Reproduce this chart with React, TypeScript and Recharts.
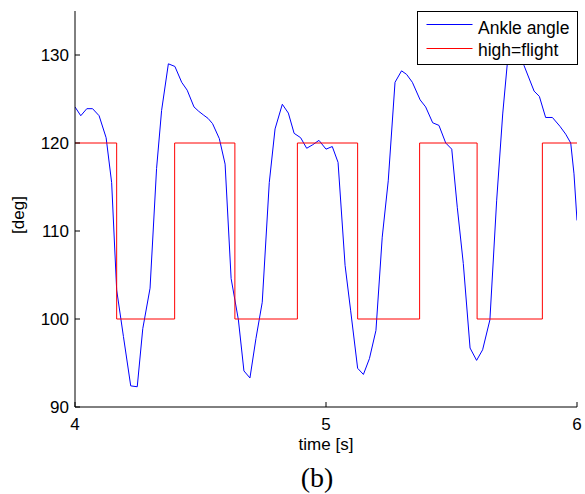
import { LineChart, Line, XAxis, YAxis } from "recharts";

// ankle angle trace
const ANKLE_TIME = [
  4.0, 4.023, 4.047, 4.07, 4.096, 4.124, 4.146, 4.166, 4.193, 4.222, 4.248,
  4.27, 4.299, 4.325, 4.345, 4.372, 4.398, 4.425, 4.447, 4.474, 4.493, 4.511,
  4.53, 4.548, 4.575, 4.598, 4.622, 4.651, 4.673, 4.697, 4.721, 4.746, 4.774,
  4.797, 4.826, 4.85, 4.873, 4.899, 4.923, 4.947, 4.972, 5.0, 5.025, 5.048,
  5.076, 5.098, 5.126, 5.149, 5.173, 5.199, 5.224, 5.248, 5.275, 5.301, 5.321,
  5.344, 5.375, 5.397, 5.425, 5.45, 5.477, 5.501, 5.523, 5.547, 5.574, 5.6,
  5.624, 5.653, 5.68, 5.704, 5.728, 5.752, 5.772, 5.789, 5.829, 5.85, 5.875,
  5.902, 5.932, 5.955, 5.975, 5.988, 6.0,
];
const ANKLE_DEG = [
  124.1, 123.1, 123.9, 123.9, 123.1, 120.6, 115.5, 103.3, 98.0, 92.4, 92.3,
  98.9, 103.5, 117.1, 123.7, 129.0, 128.7, 126.9, 126.0, 124.1, 123.6, 123.2,
  122.8, 122.2, 120.5, 117.6, 104.6, 99.9, 94.1, 93.3, 97.8, 101.9, 115.5,
  121.6, 124.4, 123.4, 121.1, 120.6, 119.4, 119.8, 120.3, 119.3, 119.6, 117.8,
  106.1, 101.0, 94.4, 93.7, 95.5, 98.7, 109.3, 115.7, 126.9, 128.2, 127.8,
  126.9, 124.9, 124.1, 122.3, 122.0, 120.0, 119.3, 112.7, 106.3, 96.7, 95.3,
  96.5, 99.9, 113.5, 123.3, 130.8, 131.6, 130.6, 128.8, 125.9, 125.3, 122.9,
  122.9, 121.9, 121.0, 120.0, 116.5, 111.2,
];

// flight/stance indicator (step)
const PHASE_TIME = [4.0, 4.166, 4.397, 4.637, 4.886, 5.126, 5.373, 5.602, 5.862, 6.0];
const PHASE_DEG = [120, 100, 120, 100, 120, 100, 120, 100, 120, 120];

const X_TICKS = [4, 5, 6];
const Y_TICKS = [90, 100, 110, 120, 130];

const SERIES = [
  { name: "Ankle angle", color: "#0000ff" },
  { name: "high=flight", color: "#ff0000" },
];

const ankleData = ANKLE_TIME.map((t, i) => ({ t, deg: ANKLE_DEG[i] }));
const phaseData = PHASE_TIME.map((t, i) => ({ t, deg: PHASE_DEG[i] }));

const FONT = "'Liberation Sans', Arial, Helvetica, sans-serif";
const tickStyle = { fill: "#000", fontSize: 17, fontFamily: FONT };
const blank = () => "";

// matlab-style boxed legend in the top right corner
const LegendBox = () => (
  <svg
    width={162}
    height={55}
    style={{ position: "absolute", left: 417, top: 11, display: "block" }}
  >
    <rect x={0.5} y={0.5} width={160} height={53} fill="#fff" stroke="#000" />
    {SERIES.map((s, i) => (
      <path
        key={s.name + "-swatch"}
        d={`M9.5 ${13.5 + i * 24} H55.5`}
        stroke={s.color}
        strokeWidth={1.2}
        fill="none"
      />
    ))}
    {SERIES.map((s, i) => (
      <text
        key={s.name}
        x={61}
        y={22.5 + i * 22}
        fontSize={17.5}
        fontFamily={FONT}
        fill="#000"
      >
        {s.name}
      </text>
    ))}
  </svg>
);

export default function App() {
  return (
    <div style={{ position: "absolute", left: 0, top: 0, width: 585, height: 494, background: "#fff" }}>
      <LineChart width={585} height={494} margin={{ top: 11, right: 8, bottom: 0, left: 0 }}>
        <XAxis
          dataKey="t"
          type="number"
          domain={[4, 6]}
          ticks={X_TICKS}
          allowDataOverflow
          height={87}
          stroke="#000"
          tickSize={-5}
          tickMargin={16}
          tick={tickStyle}
          label={{
            value: "time [s]",
            position: "insideTop",
            offset: 31,
            style: { fill: "#000", fontSize: 17, fontFamily: FONT },
          }}
        />
        <XAxis
          xAxisId="top"
          orientation="top"
          dataKey="t"
          type="number"
          domain={[4, 6]}
          ticks={X_TICKS}
          height={0}
          stroke="#000"
          tickSize={-5}
          tickFormatter={blank}
        />
        <YAxis
          type="number"
          domain={[90, 135]}
          ticks={Y_TICKS}
          allowDataOverflow
          width={75}
          stroke="#000"
          tickSize={-5}
          tickMargin={11}
          tick={tickStyle}
          label={{
            value: "[deg]",
            content: () => (
              <text
                x={18}
                y={215}
                transform="rotate(-90 18 215)"
                textAnchor="middle"
                dominantBaseline="central"
                fill="#000"
                fontSize={17}
                fontFamily={FONT}
              >
                [deg]
              </text>
            ),
          }}
        />
        <YAxis
          yAxisId="right"
          orientation="right"
          type="number"
          domain={[90, 135]}
          ticks={Y_TICKS}
          width={0}
          stroke="#000"
          tickSize={-5}
          tickFormatter={blank}
        />

        <Line
          data={ankleData}
          dataKey="deg"
          name="Ankle angle"
          type="linear"
          stroke="#0000ff"
          strokeWidth={1}
          dot={false}
          activeDot={false}
          isAnimationActive={false}
        />
        <Line
          data={phaseData}
          dataKey="deg"
          name="high=flight"
          type="stepAfter"
          stroke="#ff0000"
          strokeWidth={1}
          dot={false}
          activeDot={false}
          isAnimationActive={false}
        />
      </LineChart>
      <LegendBox />
      <div
        style={{
          position: "absolute",
          left: 267,
          width: 100,
          top: 462,
          textAlign: "center",
          fontFamily: "'Times New Roman', 'Liberation Serif', serif",
          fontSize: 28,
          lineHeight: "31px",
          color: "#000",
        }}
      >
        (b)
      </div>
    </div>
  );
}
